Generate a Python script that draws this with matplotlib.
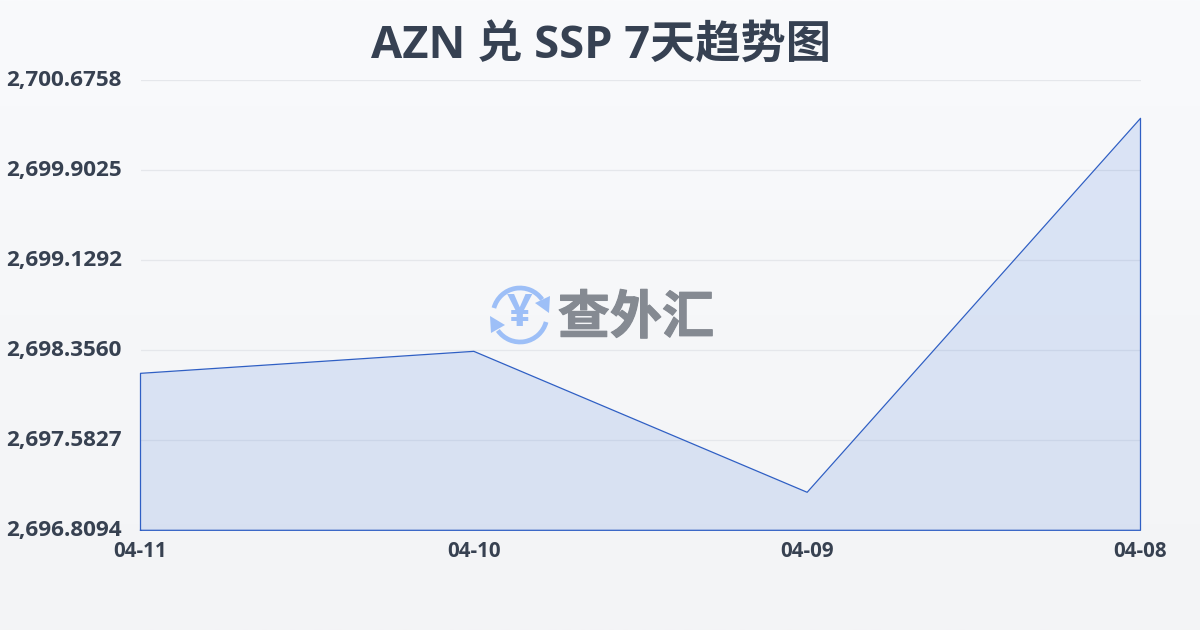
import numpy as np
import matplotlib
matplotlib.use("Agg")
import matplotlib.pyplot as plt
import matplotlib.patheffects as pe
from matplotlib.patches import Arc, Polygon

plt.rcParams['font.family'] = ['Open Sans', 'Noto Sans CJK SC', 'DejaVu Sans']

dates = ['04-11', '04-10', '04-09', '04-08']
rates = [2698.158, 2698.347, 2697.136, 2700.349]
y_ticks = [2696.8094, 2697.5827, 2698.3560, 2699.1292, 2699.9025, 2700.6758]
title = 'AZN 兑 SSP 7天趋势图'

W, H = 1200, 630
text_color = '#374151'
line_color = '#2f5fc4'

fig = plt.figure(figsize=(W / 100, H / 100), dpi=100)

# background gradient
bg = fig.add_axes([0, 0, 1, 1], zorder=0)
bg.imshow(np.linspace(0, 1, 256).reshape(-1, 1), aspect='auto', extent=[0, 1, 0, 1],
          cmap=matplotlib.colors.LinearSegmentedColormap.from_list('bg', ['#f9fafc', '#f3f4f6']))
bg.axis('off')

# plot area
ax = fig.add_axes([140.5 / W, 1 - 530.3 / H, 1000 / W, 450 / H], zorder=1)
ax.patch.set_alpha(0)
x = np.arange(len(dates))
ax.fill_between(x, rates, y_ticks[0], color='#2f6ad8', alpha=0.14, lw=0)
ax.plot(list(x[:1]) + list(x) + list(x[-1:]) + list(x[:1]),
        [y_ticks[0]] + rates + [y_ticks[0], y_ticks[0]], color=line_color, lw=0.9, clip_on=False)
ax.set_xlim(0, len(dates) - 1)
ax.set_ylim(y_ticks[0], y_ticks[-1])
ax.set_xticks(x)
ax.set_xticklabels(dates, fontsize=14.8, fontweight='bold', color=text_color)
ax.set_yticks(y_ticks)
ax.set_yticklabels([f'{v:,.4f}' for v in y_ticks], fontsize=16.2, fontweight='bold',
                   color=text_color, va='center')
ax.tick_params(axis='x', length=0, pad=7.5)
ax.tick_params(axis='y', length=0, pad=13.5)
ax.grid(axis='y', color='#e5e7eb', lw=0.9)
ax.set_axisbelow(True)
for s in ax.spines.values():
    s.set_visible(False)

# overlay in pixel coordinates for title and watermark
ov = fig.add_axes([0, 0, 1, 1], zorder=2)
ov.set_xlim(0, W)
ov.set_ylim(H, 0)
ov.axis('off')
ov.text(601, 47, title, fontsize=32.6, fontweight='bold', color='#364152', ha='center', va='center')
ov.text(636, 320, '查外汇', fontsize=37.5, fontweight='bold', color='#858a92', ha='center', va='center',
        path_effects=[pe.withStroke(linewidth=0.8, foreground='#858a92')])

icon = '#9dbff7'
cx, cy = 520, 315
ov.add_patch(Arc((cx, cy), 54, 54, theta1=195, theta2=325, color=icon, lw=3.4))
ov.add_patch(Arc((cx, cy), 54, 54, theta1=15, theta2=145, color=icon, lw=3.4))
ov.add_patch(Polygon([[535, 303], [550, 296], [549, 313]], color=icon, lw=0))
ov.add_patch(Polygon([[490, 316], [505, 325], [491, 333]], color=icon, lw=0))
ov.text(cx, cy - 1, '¥', fontsize=32, fontweight='bold', color=icon, ha='center', va='center')

fig.savefig('out.png', dpi=100)
